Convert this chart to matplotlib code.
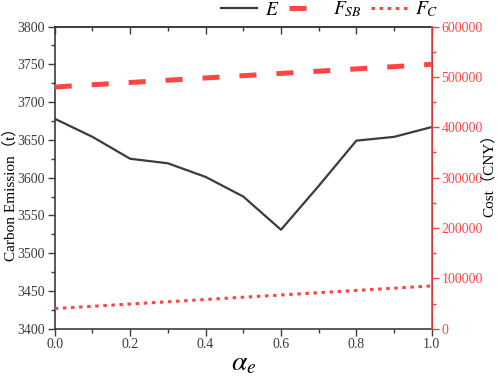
import numpy as np
import matplotlib.pyplot as plt
from matplotlib.ticker import MultipleLocator, AutoMinorLocator

# Data
alpha_e = [0.0, 0.1, 0.2, 0.3, 0.4, 0.5, 0.6, 0.7, 0.8, 0.9, 1.0]
emission = [3678, 3654, 3625, 3619, 3601, 3575, 3531, 3589, 3649, 3654, 3667]
cost_sb = [480000, 484500, 489000, 493500, 498000, 502500, 507000, 511500, 516000, 520500, 525000]
cost_c = [40000, 44500, 49000, 53500, 58000, 62500, 67000, 71500, 76000, 80500, 85000]

plt.rcParams['font.family'] = ['Liberation Serif', 'Noto Sans CJK SC']
plt.rcParams['mathtext.fontset'] = 'stix'

dark = '#3c3c3c'
red = '#ff4444'

fig = plt.figure(figsize=(4.98, 3.80), dpi=100)
ax = fig.add_axes([0.11, 0.135, 0.757, 0.795])
ax2 = ax.twinx()

l1, = ax.plot(alpha_e, emission, color=dark, lw=1.6, label='$E$')
l2, = ax2.plot(alpha_e, cost_sb, color=red, lw=3.6, ls=(0, (3.4, 4)), label='$F_{SB}$')
l3, = ax2.plot(alpha_e, cost_c, color=red, lw=2.2, ls=(0, (1.15, 1.5)), label='$F_C$')

ax.set_xlim(0, 1)
ax.set_ylim(3400, 3800)
ax2.set_ylim(0, 600000)

ax.xaxis.set_major_locator(MultipleLocator(0.2))
ax.xaxis.set_minor_locator(AutoMinorLocator(2))
ax.yaxis.set_major_locator(MultipleLocator(50))
ax.yaxis.set_minor_locator(AutoMinorLocator(2))
ax2.yaxis.set_major_locator(MultipleLocator(100000))
ax2.yaxis.set_minor_locator(AutoMinorLocator(2))

ax.tick_params(axis='both', which='major', direction='out', length=5, width=1,
               labelsize=10, colors=dark, pad=2)
ax.tick_params(axis='both', which='minor', direction='out', length=3, width=1, colors=dark)
ax2.tick_params(axis='y', which='major', direction='out', length=5, width=1,
                labelsize=10, colors=red, pad=2)
ax2.tick_params(axis='y', which='minor', direction='out', length=3, width=1, colors=red)

# inward ticks on the top spine
top = ax.secondary_xaxis('top')
top.xaxis.set_major_locator(MultipleLocator(0.2))
top.xaxis.set_minor_locator(AutoMinorLocator(2))
top.tick_params(which='major', direction='in', length=5, width=1, colors=dark, labeltop=False)
top.tick_params(which='minor', direction='in', length=3, width=1, colors=dark)
top.spines['top'].set_color(dark)
top.spines['top'].set_linewidth(1.2)

for s in ['left', 'bottom', 'top']:
    ax.spines[s].set_color(dark)
    ax.spines[s].set_linewidth(1.2)
ax2.spines['right'].set_color(red)
ax2.spines['right'].set_linewidth(1.2)
ax2.spines['left'].set_visible(False)
ax2.spines['top'].set_visible(False)
ax2.spines['bottom'].set_visible(False)

ax.set_xlabel(r'$\alpha_e$', fontsize=20, labelpad=0)
ax.set_ylabel('Carbon Emission（t）', fontsize=11, va='center')
ax2.set_ylabel('Cost（CNY）', fontsize=11, va='center')
ax.yaxis.set_label_coords(-0.118, 0.455)
ax2.yaxis.set_label_coords(1.152, 0.52)

fig.legend(handles=[l1, l2, l3], loc='center right', bbox_to_anchor=(0.915, 0.975),
           ncol=3, frameon=False, fontsize=14, handlelength=1.85, columnspacing=0.5,
           handletextpad=0.4)

fig.savefig('out.png', dpi=100)
